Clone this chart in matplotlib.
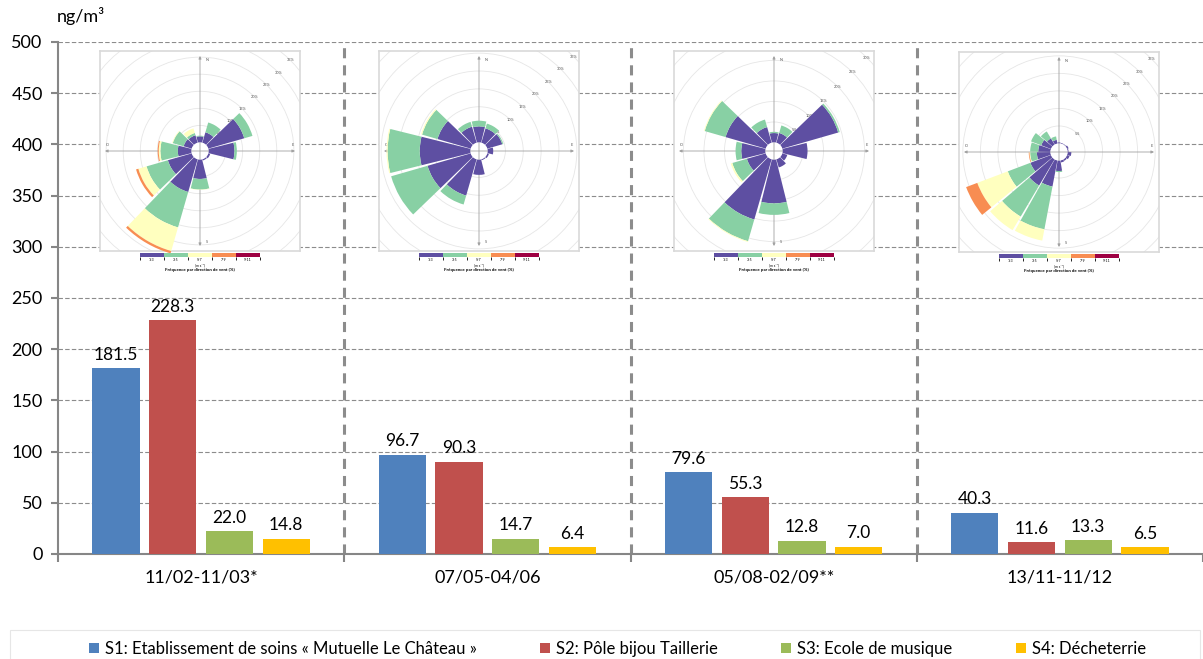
import numpy as np
import matplotlib
matplotlib.use('Agg')
import matplotlib.pyplot as plt
from matplotlib.patches import Rectangle, Circle
from matplotlib.colors import ListedColormap, BoundaryNorm
from matplotlib.cm import ScalarMappable

plt.rcParams['font.family'] = ['Lato', 'DejaVu Sans']

# ---- bar chart data (ng/m3) ----
categories = ['11/02-11/03*', '07/05-04/06', '05/08-02/09**', '13/11-11/12']
s1 = [181.5, 96.7, 79.6, 40.3]
s2 = [228.3, 90.3, 55.3, 11.6]
s3 = [22.0, 14.7, 12.8, 13.3]
s4 = [14.8, 6.4, 7.0, 6.5]
series_labels = ['S1: Etablissement de soins « Mutuelle Le Château »',
                 'S2: Pôle bijou Taillerie',
                 'S3: Ecole de musique',
                 'S4: Décheterrie']
series_colors = ['#4F81BD', '#C0504D', '#9BBB59', '#FFC000']

# ---- wind roses: frequency (%) per direction, one row per speed class ----
speed_labels = ['1-3', '3-5', '5-7', '7-9', '9-11']
speed_bounds = [1, 3, 5, 7, 9, 11]
speed_colors = ['#5E4FA2', '#88D0A4', '#FFFFBF', '#F88D52', '#9E0142']

dirs12 = [0, 30, 60, 90, 120, 150, 180, 210, 240, 270, 300, 330]
dirs18 = [0, 20, 40, 60, 80, 100, 120, 140, 160, 180, 200, 220, 240, 260, 280, 300, 320, 340]

rose1 = [[1.8, 3.2, 11.0, 7.6, 0.6, 0.4, 5.7, 10.0, 7.3, 4.0, 2.5, 2.3],
         [0.2, 3.0, 2.5, 0.7, 0.0, 0.0, 3.1, 10.8, 6.5, 5.1, 3.3, 0.7],
         [0.0, 0.0, 0.0, 0.0, 0.0, 0.0, 0.1, 7.2, 2.5, 0.5, 0.2, 1.4],
         [0.0, 0.0, 0.0, 0.0, 0.0, 0.0, 0.0, 0.7, 0.7, 0.3, 0.0, 0.0],
         [0.0, 0.0, 0.0, 0.0, 0.0, 0.0, 0.0, 0.0, 0.0, 0.0, 0.0, 0.0]]
rose2 = [[4.5, 4.2, 4.4, 1.6, 0.5, 0.3, 4.3, 10.6, 12.6, 14.2, 9.7, 4.7],
         [1.6, 1.4, 0.3, 0.0, 0.0, 0.0, 0.0, 2.6, 10.6, 9.0, 4.5, 1.4],
         [0.0, 0.0, 0.0, 0.0, 0.0, 0.0, 0.0, 0.0, 0.0, 0.3, 0.3, 0.0],
         [0.0, 0.0, 0.0, 0.0, 0.0, 0.0, 0.0, 0.0, 0.0, 0.0, 0.0, 0.0],
         [0.0, 0.0, 0.0, 0.0, 0.0, 0.0, 0.0, 0.0, 0.0, 0.0, 0.0, 0.0]]
rose3 = [[2.3, 2.5, 14.2, 6.1, 1.3, 2.1, 10.7, 15.3, 4.8, 5.9, 10.2, 4.0],
         [0.3, 1.9, 0.4, 0.0, 0.0, 0.0, 2.8, 5.5, 3.7, 1.4, 5.3, 1.9],
         [0.0, 0.0, 0.0, 0.0, 0.0, 0.0, 0.0, 0.2, 0.4, 0.0, 0.2, 0.0],
         [0.0, 0.0, 0.0, 0.0, 0.0, 0.0, 0.0, 0.0, 0.0, 0.0, 0.0, 0.0],
         [0.0, 0.0, 0.0, 0.0, 0.0, 0.0, 0.0, 0.0, 0.0, 0.0, 0.0, 0.0]]
rose4 = [[0.3, 0.2, 0.2, 0.5, 0.3, 1.1, 0.8, 0.5, 0.6, 3.0, 7.6, 8.7, 6.3, 3.9, 3.5, 3.0, 2.1, 1.1],
         [0.0, 0.0, 0.0, 0.0, 0.0, 0.0, 0.0, 0.0, 0.0, 0.3, 12.4, 10.3, 6.9, 1.9, 2.3, 3.1, 2.3, 1.0],
         [0.0, 0.0, 0.0, 0.0, 0.0, 0.0, 0.0, 0.0, 0.0, 0.0, 3.3, 4.5, 9.3, 0.2, 0.0, 0.0, 0.0, 0.0],
         [0.0, 0.0, 0.0, 0.0, 0.0, 0.0, 0.0, 0.0, 0.0, 0.0, 0.0, 0.0, 3.4, 0.2, 0.0, 0.0, 0.0, 0.0],
         [0.0, 0.0, 0.0, 0.0, 0.0, 0.0, 0.0, 0.0, 0.0, 0.0, 0.0, 0.0, 0.0, 0.0, 0.0, 0.0, 0.0, 0.0]]
# radial value (%) reached at the edge of each rose frame
rose_rmax = [26.8, 25.6, 22.3, 26.1]
ring_step = 5

W, H = 1203, 659
fig = plt.figure(figsize=(W / 100, H / 100), dpi=100)


def px(x0, y0, w, h):
    # box given in pixels from top-left -> figure fraction
    return [x0 / W, 1 - (y0 + h) / H, w / W, h / H]


# ---- main bar chart ----
ax = fig.add_axes(px(58, 42, 1145, 512))
x = np.arange(len(categories))
handles = []
for i, (vals, col) in enumerate(zip([s1, s2, s3, s4], series_colors)):
    bars = ax.bar(x + (i - 1.5) * 0.198, vals, 0.165, color=col, zorder=3)
    handles.append(bars)
    for b, v in zip(bars, vals):
        ax.annotate(f'{v:.1f}', (b.get_x() + b.get_width() / 2, v), xytext=(0, 4),
                    textcoords='offset points', ha='center', va='bottom', fontsize=12.5)

ax.set_xlim(-0.5, 3.5)
ax.set_ylim(0, 500)
ax.set_yticks(range(0, 501, 50))
ax.yaxis.grid(True, color='#8c8c8c', lw=0.8, ls=(0, (4, 2)))
ax.set_axisbelow(True)
for xb in [0.5, 1.5, 2.5]:
    ax.axvline(xb, color='#8c8c8c', lw=2.2, ls=(0, (3.3, 2.3)), zorder=2)

ax.set_xticks([-0.5, 0.5, 1.5, 2.5, 3.5])
ax.set_xticklabels([])
ax.set_xticks(x, minor=True)
ax.set_xticklabels(categories, minor=True, fontsize=13)
ax.tick_params(axis='x', which='major', length=6, width=1.5, color='#868686')
ax.tick_params(axis='x', which='minor', length=0, pad=11)
ax.tick_params(axis='y', length=5, width=1.5, color='#868686', labelsize=13, pad=6)
for s in ['top', 'right']:
    ax.spines[s].set_visible(False)
for s in ['left', 'bottom']:
    ax.spines[s].set_color('#868686')
    ax.spines[s].set_linewidth(1.5)

fig.text(81 / W, 1 - 16 / H, 'ng/m³', fontsize=13, ha='center', va='center')


# ---- wind roses ----
def draw_rose(x0, y0, dirs, freqs, rmax):
    size = 200
    half = size / 2
    hole_px = 8.5
    scale = (half - hole_px) / rmax
    hole = hole_px / scale
    lim = rmax + hole

    fax = fig.add_axes(px(x0, y0, size, size))
    fax.set_xlim(-lim, lim)
    fax.set_ylim(-lim, lim)
    fax.set_xticks([])
    fax.set_yticks([])
    for sp in fax.spines.values():
        sp.set_color('#d9d9d9')
        sp.set_linewidth(1.2)
    for r in np.arange(ring_step, 45, ring_step):
        fax.add_patch(Circle((0, 0), r + hole, fill=False, ec='#e6e6e6', lw=0.6))
        d = (r + hole) * np.cos(np.pi / 4)
        fax.text(d, d, f'{r}%', fontsize=2.8, color='#555555', ha='center', va='center', clip_on=True)
    for xy, xyt in [((0.5, 0.975), (0.5, 0.025)), ((0.975, 0.5), (0.025, 0.5))]:
        fax.annotate('', xy=xy, xytext=xyt, xycoords='axes fraction',
                     arrowprops=dict(arrowstyle='<|-|>', color='#a0a0a0', lw=0.6,
                                     mutation_scale=4, shrinkA=0, shrinkB=0))
    for t, (tx, ty) in zip('NESO', [(0.535, 0.955), (0.965, 0.53), (0.535, 0.045), (0.035, 0.53)]):
        fax.text(tx, ty, t, fontsize=2.8, color='#555555', transform=fax.transAxes,
                 ha='center', va='center')

    big = size * np.sqrt(2)
    cx, cy = x0 + half, y0 + half
    pax = fig.add_axes(px(cx - big / 2, cy - big / 2, big, big), projection='polar')
    pax.patch.set_alpha(0)
    pax.set_theta_zero_location('N')
    pax.set_theta_direction(-1)
    pax.set_ylim(0, big / 2 / scale - hole)
    pax.set_rorigin(-hole)
    pax.set_xticks([])
    pax.set_yticks([])
    pax.grid(False)
    for sp in pax.spines.values():
        sp.set_edgecolor('none')
        sp.set_linewidth(0)
    th = np.deg2rad(dirs)
    width = np.deg2rad(360 / len(dirs)) * 0.93
    bottom = np.zeros(len(dirs))
    for vals, col in zip(freqs, speed_colors):
        vals = np.array(vals)
        pax.bar(th, vals, width=width, bottom=bottom, color=col, edgecolor='none')
        bottom += vals

    cax = fig.add_axes(px(x0 + 40, y0 + size + 2, 120, 4))
    cb = fig.colorbar(ScalarMappable(norm=BoundaryNorm(speed_bounds, 5),
                                     cmap=ListedColormap(speed_colors)),
                      cax=cax, orientation='horizontal')
    cb.outline.set_visible(False)
    cb.set_ticks([2, 4, 6, 8, 10])
    cb.set_ticklabels(speed_labels)
    cax.tick_params(length=0, labelsize=2.6, pad=1)
    cax.text(0.5, -2.1, '(m s⁻¹)', transform=cax.transAxes, fontsize=2.6,
             ha='center', va='center')
    cax.text(0.5, -3.3, 'Fréquence par direction de vent (%)', transform=cax.transAxes,
             fontsize=3.2, fontweight='bold', ha='center', va='center')


draw_rose(100, 51, dirs12, rose1, rose_rmax[0])
draw_rose(379, 51, dirs12, rose2, rose_rmax[1])
draw_rose(674, 51, dirs12, rose3, rose_rmax[2])
draw_rose(959, 52, dirs18, rose4, rose_rmax[3])

# ---- legend ----
fig.legend(handles, series_labels, loc='center', bbox_to_anchor=(0.5133, 1 - 649 / H),
           ncol=4, frameon=False, fontsize=12, handlelength=0.6, handleheight=0.6,
           handletextpad=0.35, columnspacing=3.8)
fig.add_artist(Rectangle((10 / W, -0.01), 1190 / W, 29 / H + 0.01, transform=fig.transFigure,
                         fill=False, edgecolor='#e6e6e6', lw=0.8))

fig.savefig('out.png', dpi=100)
